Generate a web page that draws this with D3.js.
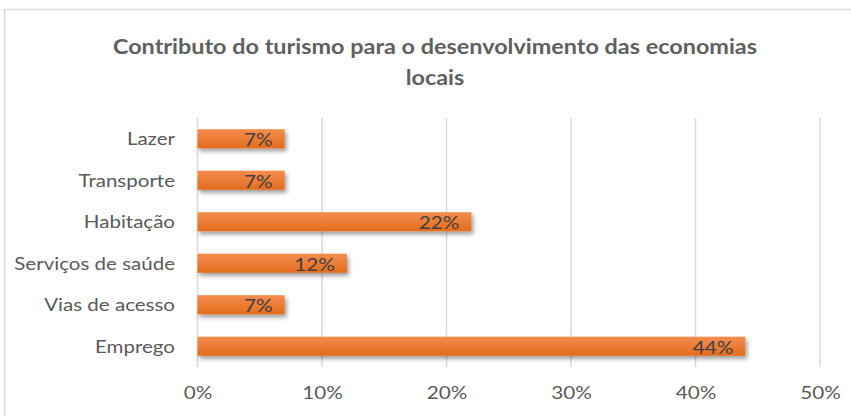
<!DOCTYPE html>
<html>
<head>
<meta charset="utf-8">
<script src="https://cdn.jsdelivr.net/npm/d3@7"></script>
<style>
  html, body { margin: 0; padding: 0; background: #fff; }
  svg { display: block; }
  text { font-family: Lato, "Open Sans", sans-serif; }
</style>
</head>
<body>
<svg id="chart" width="851" height="416"></svg>
<script>
// Chart data
const titleLines = ["Contributo do turismo para o desenvolvimento das economias", "locais"];
const categories = ["Lazer", "Transporte", "Habitação", "Serviços de saúde", "Vias de acesso", "Emprego"];
const values = [0.07, 0.07, 0.22, 0.12, 0.07, 0.44];
const xTicks = [0, 0.1, 0.2, 0.3, 0.4, 0.5];

const margin = { top: 118, left: 197.5 };

const svg = d3.select("#chart");

// Outer chart frame
svg.append("rect")
  .attr("x", 4.5).attr("y", 9.5)
  .attr("width", 1000).attr("height", 1000)
  .attr("fill", "#fff").attr("stroke", "#d9d9d9").attr("stroke-width", 1.5);

const defs = svg.append("defs");
const grad = defs.append("linearGradient").attr("id", "barGrad")
  .attr("x1", 0).attr("y1", 0).attr("x2", 0).attr("y2", 1);
grad.append("stop").attr("offset", "0%").attr("stop-color", "#f38d4f");
grad.append("stop").attr("offset", "100%").attr("stop-color", "#e46c1c");

const shadow = defs.append("filter").attr("id", "barShadow")
  .attr("x", "-5%").attr("y", "-30%").attr("width", "115%").attr("height", "190%");
shadow.append("feDropShadow")
  .attr("dx", 2).attr("dy", 3).attr("stdDeviation", 2)
  .attr("flood-color", "#000").attr("flood-opacity", 0.38);

const x = d3.scaleLinear().domain([0, 0.5]).range([margin.left, 820]);
const y = d3.scaleBand().domain(categories).range([margin.top, 367]).paddingInner(0.54).paddingOuter(0.27);

// widen glyphs to a Calibri-like set width
function widen(stretch) {
  return sel => sel.each(function () {
    const w = this.getComputedTextLength();
    d3.select(this).attr("textLength", w * stretch).attr("lengthAdjust", "spacingAndGlyphs");
  });
}

// Title
svg.append("g").selectAll("text").data(titleLines).join("text")
  .attr("x", 435).attr("y", (d, i) => 54 + i * 31)
  .attr("text-anchor", "middle")
  .attr("font-size", 20).attr("font-weight", 700)
  .attr("fill", "#5f5f5f")
  .text(d => d)
  .call(widen(1.17));

// Vertical gridlines
svg.append("g").selectAll("line").data(xTicks).join("line")
  .attr("x1", d => x(d)).attr("x2", d => x(d))
  .attr("y1", margin.top).attr("y2", 367)
  .attr("stroke", "#d9d9d9").attr("stroke-width", 1.5);

// X axis tick labels
const xAxis = d3.axisBottom(x).tickValues(xTicks).tickFormat(d3.format(".0%")).tickSize(0).tickPadding(0);
const gx = svg.append("g").attr("transform", "translate(0,399)").call(xAxis);
gx.select(".domain").remove();
gx.selectAll("text")
  .attr("dy", 0).attr("y", 0)
  .attr("font-size", 18).attr("fill", "#595959")
  .style("font-family", "Lato, sans-serif")
  .call(widen(1.15));

// Category labels
const yAxis = d3.axisLeft(y).tickSize(0).tickPadding(0);
const gy = svg.append("g").attr("transform", "translate(175,0)").call(yAxis);
gy.select(".domain").remove();
gy.selectAll("text")
  .attr("dy", "0.35em")
  .attr("font-size", 18).attr("fill", "#595959")
  .style("font-family", "Lato, sans-serif")
  .call(widen(1.14));

// Bars
const bars = svg.append("g");
bars.selectAll("rect").data(categories).join("rect")
  .attr("x", x(0))
  .attr("y", d => y(d))
  .attr("width", (d, i) => x(values[i]) - x(0))
  .attr("height", y.bandwidth())
  .attr("fill", "url(#barGrad)")
  .attr("filter", "url(#barShadow)");

// Data labels, inside end
const fmt = d3.format(".0%");
bars.selectAll("text").data(categories).join("text")
  .attr("x", (d, i) => x(values[i]) - 12)
  .attr("y", d => y(d) + y.bandwidth() / 2 + 1)
  .attr("dy", "0.35em")
  .attr("text-anchor", "end")
  .attr("font-size", 18).attr("fill", "#404040")
  .text((d, i) => fmt(values[i]))
  .call(widen(1.15));
</script>
</body>
</html>
